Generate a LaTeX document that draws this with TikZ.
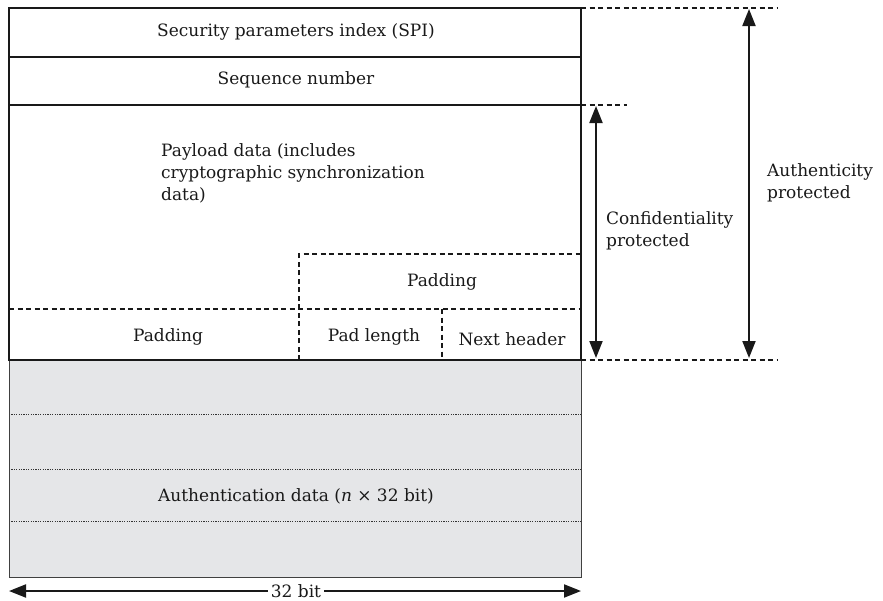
\documentclass[tikz,border=0pt]{standalone}
\usepackage{fontspec}
\setmainfont{DejaVu Serif}
\usetikzlibrary{arrows.meta}
\definecolor{authgray}{HTML}{E5E6E8}
\tikzset{
  solidline/.style={line width=2pt, black!90},
  dashline/.style={line width=2pt, black!90, dash pattern=on 5pt off 3.5pt},
  dotline/.style={line width=0.9pt, black!80, dash pattern=on 1.2pt off 1.2pt},
  lbl/.style={font=\fontsize{17}{22}\selectfont, text=black!90, inner sep=0pt},
  dimarrow/.style={line width=2pt, black!90, {Triangle[length=17pt,width=13pt]}-{Triangle[length=17pt,width=13pt]}}
}
\begin{document}
\begin{tikzpicture}[x=1pt,y=-1pt]
\useasboundingbox (0,0) rectangle (883,600);

% authentication data block
\fill[authgray] (9,360) rectangle (581,577);
\draw[dotline] (9,414) -- (581,414);
\draw[dotline] (9,469) -- (581,469);
\draw[dotline] (9,521) -- (581,521);
\draw[line width=1pt, black!75] (9,360) rectangle (581,577);

% ESP header and payload
\draw[solidline] (9,8) rectangle (581,360);
\draw[solidline] (9,57) -- (581,57);
\draw[solidline] (9,105) -- (581,105);

% trailer fields
\draw[dashline] (299,360) -- (299,254) -- (581,254);
\draw[dashline] (9,309) -- (581,309);
\draw[dashline] (442,309) -- (442,360);

% labels
\node[lbl] (spi) at (296,32) {Security parameters index (SPI)};
\node[lbl] (seq) at (296,80) {Sequence number};
\node[lbl, anchor=north west, align=left] (payload) at (161,143)
  {Payload data (includes\\cryptographic synchronization\\data)};
\node[lbl] (pad1) at (442,282) {Padding};
\node[lbl] (pad2) at (168,337) {Padding};
\node[lbl] (padlen) at (374,337) {Pad length};
\node[lbl] (nexthdr) at (512,339) {Next header};
\node[lbl] (auth) at (296,496) {Authentication data (\textit{n} × 32 bit)};

% extension lines on the right
\coordinate (topL) at (581,8);
\coordinate (topR) at (777,8);
\coordinate (midL) at (581,105);
\coordinate (midR) at (627,105);
\coordinate (botL) at (581,360);
\coordinate (botR) at (777,360);
\draw[dashline] (topL) -- (topR);
\draw[dashline] (midL) -- (midR);
\draw[dashline] (botL) -- (botR);

% protection ranges
\coordinate (confT) at (596,106);
\coordinate (confB) at (596,358);
\coordinate (authT) at (749,9);
\coordinate (authB) at (749,358);
\draw[dimarrow] (confT) -- (confB);
\draw[dimarrow] (authT) -- (authB);
\node[lbl, anchor=north west, align=left] (conflbl) at (606,211) {Confidentiality\\protected};
\node[lbl, anchor=north west, align=left] (authlbl) at (767,163) {Authenticity\\protected};

% width of the format
\coordinate (wL) at (9,591);
\coordinate (wR) at (581,591);
\draw[dimarrow] (wL) -- (wR);
\node[lbl, fill=white, inner xsep=3pt, inner ysep=1pt] (width) at (296,591) {32 bit};
\end{tikzpicture}
\end{document}
